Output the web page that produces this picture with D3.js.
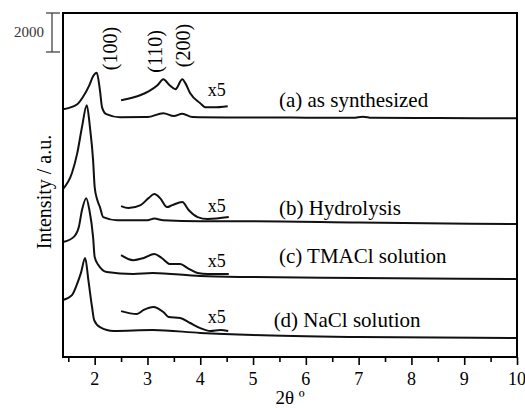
<!DOCTYPE html>
<html>
<head>
<meta charset="utf-8">
<script src="https://cdn.jsdelivr.net/npm/d3@7"></script>
<style>
  body { margin: 0; background: #fff; }
  svg { display: block; font-family: "Liberation Serif", "DejaVu Serif", serif; }
</style>
</head>
<body>
<svg id="chart" width="525" height="408"></svg>
<script>
// 2-theta (deg) and intensity (counts above each pattern's own baseline)
const labels = ["(a) as synthesized", "(b) Hydrolysis", "(c) TMACl solution", "(d) NaCl solution"];
const offsets = [12250, 6820, 4000, 975];

const twoThetaA = [1.4, 1.67, 1.78, 1.9, 1.97, 2.04, 2.1, 2.14, 2.22, 2.48, 3.0, 3.3, 3.5, 3.66, 3.85, 4.5, 6.0, 6.9, 7.08, 7.25, 8.5, 10];
const countsA   = [460, 720, 1100, 1700, 2150, 2330, 1430, 560, 210, 50, 60, 260, 110, 230, 60, 40, 30, 20, 80, 20, 10, 0];
const twoThetaB = [1.4, 1.57, 1.67, 1.76, 1.85, 1.91, 1.97, 2.0, 2.05, 2.1, 2.16, 2.43, 3.0, 3.13, 3.3, 4.0, 5.0, 7.0, 10];
const countsB   = [1800, 2620, 3640, 4980, 6100, 4980, 3280, 1900, 1230, 870, 360, 200, 200, 280, 200, 150, 150, 80, 0];
const twoThetaC = [1.4, 1.6, 1.7, 1.76, 1.84, 1.9, 1.97, 2.0, 2.07, 2.23, 2.73, 3.1, 4.0, 5.0, 7.0, 10];
const countsC   = [1900, 2150, 2670, 3540, 4150, 3540, 2150, 1130, 720, 360, 260, 310, 150, 100, 50, 0];
const twoThetaD = [1.4, 1.57, 1.66, 1.74, 1.82, 1.88, 1.95, 1.99, 2.1, 2.36, 3.1, 4.0, 5.0, 7.0, 10];
const countsD   = [1950, 2200, 2720, 3340, 4100, 2980, 1590, 920, 560, 360, 410, 260, 150, 50, 0];

// x5 magnified region 2.5-4.5 deg
const twoThetaA5 = [2.5, 2.86, 3.02, 3.19, 3.3, 3.42, 3.53, 3.66, 3.72, 3.81, 4.0, 4.1, 4.25, 4.52];
const countsA5   = [920, 1180, 1380, 1690, 2000, 1690, 1490, 2000, 1790, 1280, 770, 560, 560, 620];
const twoThetaB5 = [2.5, 2.64, 2.87, 3.02, 3.13, 3.24, 3.37, 3.47, 3.66, 3.78, 3.95, 4.14, 4.54];
const countsB5   = [920, 820, 970, 1330, 1540, 1330, 870, 970, 1130, 720, 360, 260, 360];
const twoThetaC5 = [2.5, 2.73, 2.93, 3.13, 3.27, 3.43, 3.62, 3.76, 3.95, 4.14, 4.54];
const countsC5   = [1230, 970, 1080, 1280, 1080, 770, 770, 560, 310, 260, 260];
const twoThetaD5 = [2.5, 2.8, 2.93, 3.11, 3.3, 3.4, 3.62, 3.81, 4.0, 4.19, 4.38, 4.53];
const countsD5   = [1380, 1230, 1440, 1590, 1330, 1080, 1030, 770, 510, 360, 410, 360];

const peakNames = ["(100)", "(110)", "(200)"];
const peakPos = [2.29, 3.15, 3.68];
const xTicks = [2, 3, 4, 5, 6, 7, 8, 9, 10];
const scaleBar = 2000;

const svg = d3.select("#chart");
const mLeft = 63, mRight = 517, mTop = 13, mBottom = 357;

const x = d3.scaleLinear().domain([1.4, 10]).range([mLeft, mRight]);
const y = d3.scaleLinear().domain([0, 17650]).range([mBottom, mTop]);

const zip = (xs, ys, off) => xs.map((v, i) => [v, ys[i] + off]);
const patterns = [
  zip(twoThetaA, countsA, offsets[0]),
  zip(twoThetaB, countsB, offsets[1]),
  zip(twoThetaC, countsC, offsets[2]),
  zip(twoThetaD, countsD, offsets[3])
];
const zoomed = [
  zip(twoThetaA5, countsA5, offsets[0]),
  zip(twoThetaB5, countsB5, offsets[1]),
  zip(twoThetaC5, countsC5, offsets[2]),
  zip(twoThetaD5, countsD5, offsets[3])
];

const line = d3.line()
  .x(d => x(d[0]))
  .y(d => y(d[1]))
  .curve(d3.curveMonotoneX);

svg.append("g").selectAll("path")
  .data(patterns.concat(zoomed))
  .join("path")
    .attr("fill", "none")
    .attr("stroke", "#111")
    .attr("stroke-width", 2)
    .attr("stroke-linejoin", "round")
    .attr("d", line);

// frame
svg.append("rect")
  .attr("x", mLeft).attr("y", mTop)
  .attr("width", mRight - mLeft).attr("height", mBottom - mTop)
  .attr("fill", "none").attr("stroke", "#000").attr("stroke-width", 2);

// x axis, ticks outside
const xAxis = d3.axisBottom(x)
  .tickValues(d3.range(1.5, 10.01, 0.5))
  .tickSize(0)
  .tickFormat("");
const gx = svg.append("g").attr("transform", `translate(0,${mBottom})`).call(xAxis);
gx.select(".domain").remove();
gx.selectAll(".tick line")
  .attr("stroke", "#000").attr("stroke-width", 1.6)
  .attr("y2", d => Number.isInteger(d) ? 8 : 5);

svg.append("g").selectAll("text")
  .data(xTicks)
  .join("text")
    .attr("x", d => x(d))
    .attr("y", 385)
    .attr("text-anchor", "middle")
    .attr("font-size", 18)
    .text(d => d);

svg.append("text")
  .attr("x", 290).attr("y", 404)
  .attr("text-anchor", "middle")
  .attr("font-size", 19)
  .text("2θ º");

svg.append("text")
  .attr("transform", "translate(51,192) rotate(-90)")
  .attr("text-anchor", "middle")
  .attr("font-size", 20)
  .text("Intensity / a.u.");

// 2000-count scale bar
const barTop = y.domain()[1];
const sb = svg.append("g").attr("stroke", "#444").attr("stroke-width", 1.3);
sb.append("line").attr("x1", 52).attr("x2", 52).attr("y1", y(barTop)).attr("y2", y(barTop - scaleBar));
sb.append("line").attr("x1", 46).attr("x2", 60).attr("y1", y(barTop)).attr("y2", y(barTop));
sb.append("line").attr("x1", 46).attr("x2", 60).attr("y1", y(barTop - scaleBar)).attr("y2", y(barTop - scaleBar));
svg.append("text")
  .attr("x", 44).attr("y", (y(barTop) + y(barTop - scaleBar)) / 2 + 5)
  .attr("text-anchor", "end")
  .attr("font-size", 15)
  .attr("fill", "#333")
  .text("2000");

// peak indices
const peakMid = [48.5, 51.5, 45.5];
svg.append("g").selectAll("text")
  .data(peakNames)
  .join("text")
    .attr("transform", (d, i) => `translate(${x(peakPos[i]) + 7},${peakMid[i]}) rotate(-90)`)
    .attr("text-anchor", "middle")
    .attr("font-size", 20)
    .text(d => d);

// x5 marks and sample labels
const x5Lift = [1150, 620, 620, 770];
svg.append("g").selectAll("text")
  .data(offsets)
  .join("text")
    .attr("x", x(4.14))
    .attr("y", (d, i) => y(d + x5Lift[i]))
    .attr("font-size", 18)
    .text("x5");

const labelLift = [580, 470, 825, 565];
const labelX = [5.49, 5.49, 5.49, 5.39];
svg.append("g").selectAll("text")
  .data(labels)
  .join("text")
    .attr("x", (d, i) => x(labelX[i]))
    .attr("y", (d, i) => y(offsets[i] + labelLift[i]))
    .attr("font-size", 21)
    .text(d => d);
</script>
</body>
</html>
